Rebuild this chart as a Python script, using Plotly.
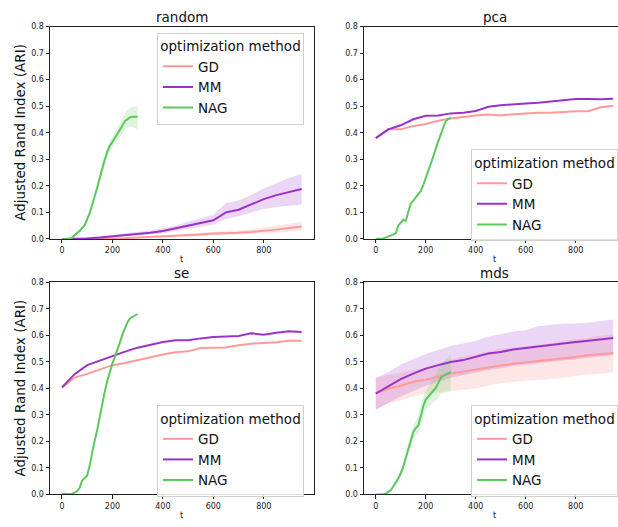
import plotly.graph_objects as go

# ---------------- data ----------------
t_long = [0, 50, 100, 150, 200, 250, 300, 350, 400, 450, 500, 550, 600, 650, 700, 750, 800, 850, 900, 950]
t_nag = list(range(0, 301, 10))

# random init
random_gd = [0, 0, 0, 0.001, 0.002, 0.003, 0.005, 0.007, 0.009, 0.012, 0.015, 0.017, 0.02, 0.021, 0.023, 0.026, 0.03, 0.035, 0.041, 0.047]
random_gd_hi = [0.001, 0.001, 0.002, 0.003, 0.004, 0.006, 0.008, 0.011, 0.014, 0.017, 0.02, 0.023, 0.026, 0.028, 0.031, 0.036, 0.043, 0.05, 0.058, 0.065]
random_gd_lo = [0, 0, 0, 0, 0, 0.001, 0.002, 0.004, 0.005, 0.007, 0.009, 0.011, 0.013, 0.014, 0.016, 0.018, 0.02, 0.023, 0.027, 0.031]
random_mm = [0, 0, 0.002, 0.005, 0.009, 0.014, 0.019, 0.023, 0.03, 0.04, 0.05, 0.06, 0.07, 0.1, 0.11, 0.13, 0.15, 0.165, 0.177, 0.188]
random_mm_hi = [0.001, 0.002, 0.005, 0.009, 0.014, 0.02, 0.027, 0.032, 0.04, 0.05, 0.065, 0.077, 0.09, 0.135, 0.145, 0.165, 0.19, 0.21, 0.23, 0.245]
random_mm_lo = [0, 0, 0, 0.002, 0.005, 0.009, 0.012, 0.015, 0.021, 0.03, 0.037, 0.045, 0.053, 0.075, 0.085, 0.1, 0.113, 0.12, 0.125, 0.13]
random_nag = [0, 0, 0, 0, 0.005, 0.012, 0.022, 0.03, 0.04, 0.052, 0.075, 0.097, 0.13, 0.16, 0.195, 0.23, 0.27, 0.3, 0.33, 0.352,
              0.365, 0.38, 0.393, 0.41, 0.427, 0.445, 0.452, 0.458, 0.46, 0.46, 0.46]
random_nag_hi = [0.001, 0.001, 0.001, 0.002, 0.008, 0.016, 0.027, 0.036, 0.047, 0.06, 0.084, 0.107, 0.141, 0.173, 0.209, 0.245, 0.287, 0.318, 0.349, 0.372,
                 0.386, 0.403, 0.418, 0.437, 0.456, 0.476, 0.485, 0.493, 0.498, 0.5, 0.5]
random_nag_lo = [0, 0, 0, 0, 0.002, 0.008, 0.017, 0.024, 0.033, 0.044, 0.066, 0.087, 0.119, 0.147, 0.181, 0.215, 0.253, 0.282, 0.311, 0.332,
                 0.344, 0.357, 0.368, 0.383, 0.398, 0.414, 0.419, 0.423, 0.422, 0.418, 0.41]

# pca init
pca_gd = [0.38, 0.413, 0.413, 0.425, 0.433, 0.445, 0.454, 0.46, 0.465, 0.469, 0.465, 0.47, 0.473, 0.475, 0.475, 0.478, 0.481, 0.481, 0.496, 0.502]
pca_mm = [0.38, 0.413, 0.428, 0.451, 0.464, 0.465, 0.473, 0.475, 0.482, 0.498, 0.504, 0.508, 0.51, 0.513, 0.517, 0.523, 0.527, 0.527, 0.526, 0.528]
pca_nag = [0, 0, 0, 0.002, 0.005, 0.009, 0.013, 0.017, 0.021, 0.05, 0.062, 0.072, 0.068, 0.1, 0.133, 0.144, 0.155, 0.166, 0.18, 0.203,
           0.228, 0.252, 0.277, 0.31, 0.34, 0.368, 0.395, 0.42, 0.443, 0.452, 0.456]

# se init
se_gd = [0.404, 0.441, 0.455, 0.471, 0.488, 0.496, 0.507, 0.518, 0.528, 0.537, 0.54, 0.553, 0.555, 0.555, 0.563, 0.569, 0.572, 0.574, 0.58, 0.58]
se_mm = [0.404, 0.454, 0.488, 0.506, 0.524, 0.539, 0.554, 0.565, 0.575, 0.582, 0.582, 0.589, 0.594, 0.596, 0.598, 0.608, 0.603, 0.61, 0.616, 0.613]
se_nag = [0.003, 0.002, 0.001, 0.002, 0.003, 0.007, 0.012, 0.025, 0.053, 0.062, 0.072, 0.11, 0.16, 0.205, 0.245, 0.295, 0.345, 0.39, 0.43, 0.465,
          0.495, 0.52, 0.545, 0.575, 0.605, 0.63, 0.65, 0.665, 0.671, 0.676, 0.681]

# mds init
mds_gd = [0.381, 0.4, 0.41, 0.425, 0.433, 0.445, 0.456, 0.464, 0.472, 0.48, 0.487, 0.493, 0.498, 0.502, 0.507, 0.513, 0.519, 0.525, 0.53, 0.534]
mds_gd_hi = [0.44, 0.45, 0.46, 0.47, 0.48, 0.495, 0.51, 0.52, 0.53, 0.54, 0.55, 0.555, 0.56, 0.565, 0.57, 0.58, 0.585, 0.59, 0.6, 0.605]
mds_gd_lo = [0.32, 0.345, 0.355, 0.37, 0.38, 0.385, 0.39, 0.395, 0.4, 0.41, 0.42, 0.425, 0.43, 0.432, 0.435, 0.44, 0.447, 0.452, 0.456, 0.46]
mds_mm = [0.381, 0.407, 0.435, 0.456, 0.475, 0.488, 0.5, 0.507, 0.519, 0.532, 0.538, 0.547, 0.553, 0.559, 0.563, 0.569, 0.575, 0.58, 0.585, 0.59]
mds_mm_hi = [0.44, 0.46, 0.49, 0.51, 0.53, 0.545, 0.56, 0.57, 0.58, 0.595, 0.605, 0.615, 0.62, 0.635, 0.64, 0.645, 0.645, 0.648, 0.655, 0.66]
mds_mm_lo = [0.32, 0.345, 0.37, 0.39, 0.41, 0.425, 0.44, 0.45, 0.46, 0.47, 0.475, 0.485, 0.49, 0.495, 0.5, 0.505, 0.51, 0.515, 0.52, 0.525]
mds_nag = [0, 0, 0, 0, 0.003, 0.008, 0.016, 0.03, 0.044, 0.06, 0.08, 0.105, 0.138, 0.172, 0.205, 0.235, 0.25, 0.26, 0.295, 0.333,
           0.358, 0.37, 0.378, 0.39, 0.402, 0.42, 0.44, 0.448, 0.454, 0.458, 0.463]
mds_nag_hi = [0.001, 0.001, 0.001, 0.002, 0.006, 0.012, 0.021, 0.036, 0.051, 0.068, 0.09, 0.118, 0.153, 0.19, 0.226, 0.258, 0.28, 0.295, 0.333, 0.37,
              0.39, 0.405, 0.42, 0.437, 0.452, 0.47, 0.49, 0.5, 0.51, 0.518, 0.525]
mds_nag_lo = [0, 0, 0, 0, 0.001, 0.004, 0.011, 0.024, 0.037, 0.052, 0.07, 0.092, 0.123, 0.154, 0.184, 0.21, 0.222, 0.228, 0.26, 0.295,
              0.318, 0.33, 0.338, 0.348, 0.355, 0.368, 0.378, 0.382, 0.385, 0.388, 0.39]

panel_titles = ["random", "pca", "se", "mds"]
methods = ["GD", "MM", "NAG"]
y_ticks = [0.0, 0.1, 0.2, 0.3, 0.4, 0.5, 0.6, 0.7, 0.8]
x_ticks = [0, 200, 400, 600, 800]

# ---------------- style ----------------
W, H = 618, 527
FONT = "DejaVu Sans"
line_col = {"GD": "#ff9a98", "MM": "#9932cc", "NAG": "#5cc85c"}
fill_col = {"GD": "rgba(255,140,140,0.22)", "MM": "rgba(153,50,204,0.20)", "NAG": "rgba(92,200,92,0.20)"}

def px_x(p):
    return p / W

def px_y(p):
    return 1 - p / H

# panel pixel boxes (left, right, top, bottom)
boxes = [(50, 313.6, 23, 239), (364, 618, 23, 239), (50, 313.6, 283.3, 499), (364, 618, 283.3, 499)]
xranges = [[-47.5, 997.5], [-47, 969], [-47.5, 997.5], [-47, 969]]

panels = [
    {"GD": (random_gd, random_gd_lo, random_gd_hi), "MM": (random_mm, random_mm_lo, random_mm_hi), "NAG": (random_nag, random_nag_lo, random_nag_hi)},
    {"GD": (pca_gd, None, None), "MM": (pca_mm, None, None), "NAG": (pca_nag, None, None)},
    {"GD": (se_gd, None, None), "MM": (se_mm, None, None), "NAG": (se_nag, None, None)},
    {"GD": (mds_gd, mds_gd_lo, mds_gd_hi), "MM": (mds_mm, mds_mm_lo, mds_mm_hi), "NAG": (mds_nag, mds_nag_lo, mds_nag_hi)},
]

legend_pos = [  # (x right edge px, y top px)
    (304, 29), (618, 148), (304, 408), (618, 408)
]

fig = go.Figure()
layout = {}
annotations = []

for i, panel in enumerate(panels):
    k = "" if i == 0 else str(i + 1)
    xa, ya = "x" + k, "y" + k
    leg = "legend" + k
    for m in methods:
        mean, lo, hi = panel[m]
        xs = t_nag if m == "NAG" else t_long
        if lo is not None:
            fig.add_trace(go.Scatter(x=xs, y=hi, mode="lines", line=dict(width=0, color=fill_col[m]),
                                     showlegend=False, hoverinfo="skip", xaxis=xa, yaxis=ya))
            fig.add_trace(go.Scatter(x=xs, y=lo, mode="lines", line=dict(width=0, color=fill_col[m]),
                                     fill="tonexty", fillcolor=fill_col[m],
                                     showlegend=False, hoverinfo="skip", xaxis=xa, yaxis=ya))
    for m in methods:
        mean, lo, hi = panel[m]
        xs = t_nag if m == "NAG" else t_long
        fig.add_trace(go.Scatter(x=xs, y=mean, mode="lines", name=m,
                                 line=dict(color=line_col[m], width=2),
                                 xaxis=xa, yaxis=ya, legend=leg))

    l, r, top, bot = boxes[i]
    left_col = i % 2 == 0
    layout["xaxis" + k] = dict(
        domain=[px_x(l), min(px_x(r), 1.0)], range=xranges[i], anchor=ya,
        tickvals=x_ticks, ticks="outside", ticklen=3.5, tickwidth=0.8, tickcolor="#222",
        showline=True, linecolor="#222", linewidth=1, mirror=True,
        showgrid=False, zeroline=False,
        tickfont=dict(family=FONT, size=8, color="#222"),
    )
    layout["yaxis" + k] = dict(
        domain=[px_y(bot), px_y(top)], range=[0, 0.8], anchor=xa,
        tickvals=y_ticks, tickformat=".1f", ticks="outside", ticklen=3.5, tickwidth=0.8, tickcolor="#222",
        showline=True, linecolor="#222", linewidth=1, mirror=True if left_col else False,
        showgrid=False, zeroline=False,
        tickfont=dict(family=FONT, size=8, color="#222"),
    )
    lx, ly = legend_pos[i]
    layout[leg] = dict(
        x=px_x(lx), y=px_y(ly), xanchor="right", yanchor="top",
        bgcolor="rgba(255,255,255,0.85)", bordercolor="#d0d0d0", borderwidth=1,
        font=dict(family=FONT, size=13.5, color="#111"),
        title=dict(text="optimization method", side="top center", font=dict(family=FONT, size=13.5, color="#111")),
        itemwidth=30, tracegroupgap=0, traceorder="normal",
    )
    cx = (l + (r if left_col else 625)) / 2
    annotations.append(dict(text=panel_titles[i], x=px_x(cx), y=px_y(top - 10), xref="paper", yref="paper",
                            xanchor="center", yanchor="middle", showarrow=False,
                            font=dict(family=FONT, size=13.5, color="#111")))
    annotations.append(dict(text="t", x=px_x(cx), y=px_y(bot + 21), xref="paper", yref="paper",
                            xanchor="center", yanchor="middle", showarrow=False,
                            font=dict(family=FONT, size=8, color="#222")))
    if left_col:
        annotations.append(dict(text="Adjusted Rand Index (ARI)", x=px_x(20), y=px_y((top + bot) / 2),
                                xref="paper", yref="paper", xanchor="center", yanchor="middle",
                                textangle=-90, showarrow=False,
                                font=dict(family=FONT, size=13.5, color="#111")))

fig.update_layout(
    width=W, height=H, margin=dict(l=0, r=0, t=0, b=0),
    paper_bgcolor="white", plot_bgcolor="white",
    annotations=annotations, **layout,
)

fig.write_html("out.html")
